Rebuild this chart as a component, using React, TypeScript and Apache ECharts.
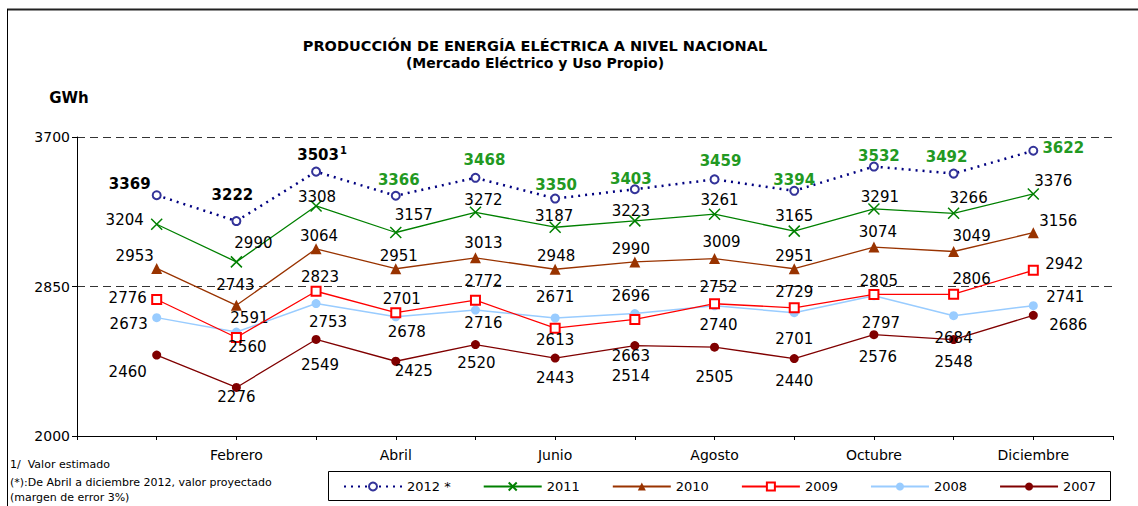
import React, { useEffect, useRef } from "react";
import * as echarts from "echarts";

const months = ["Enero", "Febrero", "Marzo", "Abril", "Mayo", "Junio", "Julio", "Agosto", "Septiembre", "Octubre", "Noviembre", "Diciembre"];
const yTicks = [2000, 2850, 3700];

const v2012 = [3369, 3222, 3503, 3366, 3468, 3350, 3403, 3459, 3394, 3532, 3492, 3622];
const v2011 = [3204, 2990, 3308, 3157, 3272, 3187, 3223, 3261, 3165, 3291, 3266, 3376];
const v2010 = [2953, 2743, 3064, 2951, 3013, 2948, 2990, 3009, 2951, 3074, 3049, 3156];
const v2009 = [2776, 2560, 2823, 2701, 2772, 2613, 2663, 2752, 2729, 2805, 2806, 2942];
const v2008 = [2673, 2591, 2753, 2678, 2716, 2671, 2696, 2740, 2701, 2797, 2684, 2741];
const v2007 = [2460, 2276, 2549, 2425, 2520, 2443, 2514, 2505, 2440, 2576, 2548, 2686];

// 2012: first months are actual values, the rest projected (green labels)
const estimatedFrom = 3; // index of Abril
const footnoteIndex = 2; // Marzo carries the "1/" mark

// label placement (layout only): [dx, dy] from the point
const off2012 = [[-27, -11], [-4, -26], [6, -17], [3, -16], [9, -18], [1, -14], [-4, -10], [6, -18], [0, -11], [5, -11], [-7, -17], [30, -3]];
const off2011 = [[-32, -4], [17, -19], [1, -9], [18, -18], [8, -12], [-1, -11], [-4, -10], [5, -14], [0, -15], [6, -12], [15, -15], [20, -13]];
const off2010 = [[-22, -12], [-1, -20], [3, -13], [3, -13], [8, -15], [1, -13], [-4, -13], [7, -17], [0, -13], [4, -15], [18, -15], [25, -12]];
const off2009 = [[-29, -2], [11, 9], [4, -14], [6, -14], [8, -19], [0, 12], [-4, 37], [4, -17], [0, -16], [5, -13], [18, -15], [31, -6]];
const off2008 = [[-28, 6], [13, -14], [12, 18], [11, 15], [8, 13], [0, -21], [-4, -18], [4, 19], [0, 26], [7, 27], [0, 22], [32, -9]];
const off2007 = [[-29, 17], [0, 10], [4, 26], [18, 10], [1, 18], [0, 20], [-4, 30], [0, 30], [0, 22], [4, 22], [0, 22], [35, 10]];

const FONT = "DejaVu Sans";

function pts(values: number[], offs: number[][]) {
  return values.map((v, i) => ({
    value: [i + 1, v],
    label: { offset: offs[i] },
  }));
}

export default function App() {
  const ref = useRef<HTMLDivElement>(null);
  useEffect(() => {
    if (!ref.current) return;
    const chart = echarts.init(ref.current, null, { renderer: "svg" });
    const baseLabel = {
      show: true,
      position: "inside",
      color: "#000",
      fontFamily: FONT,
      fontSize: 15,
    };
    const data2012 = v2012.map((v, i) => ({
      value: [i + 1, v],
      label: {
        offset: off2012[i],
        formatter: i === footnoteIndex ? `{b|${v}}{s|1}` : i >= estimatedFrom ? `{g|${v}}` : `{b|${v}}`,
      },
    }));
    chart.setOption({
      animation: false,
      backgroundColor: "#fff",
      title: {
        text: "PRODUCCIÓN DE ENERGÍA ELÉCTRICA A NIVEL NACIONAL",
        subtext: "(Mercado Eléctrico y Uso Propio)",
        left: 530,
        textAlign: "center",
        top: 33,
        itemGap: 3,
        textStyle: { fontFamily: FONT, fontSize: 14.5, fontWeight: "bold", color: "#000" },
        subtextStyle: { fontFamily: FONT, fontSize: 14, fontWeight: "bold", color: "#000" },
      },
      grid: { left: 77, right: 25, top: 137, bottom: 70 },
      xAxis: {
        type: "value",
        min: 0,
        max: 13,
        interval: 1,
        axisLine: { show: true, lineStyle: { color: "#000", width: 1 } },
        axisTick: { show: true, inside: false, length: 4, lineStyle: { color: "#000" } },
        splitLine: { show: false },
        axisLabel: {
          margin: 12,
          color: "#000",
          fontFamily: FONT,
          fontSize: 14,
          formatter: (v: number) => (v >= 2 && v <= 12 && v % 2 === 0 ? months[v - 1] : ""),
        },
      },
      yAxis: {
        type: "value",
        min: yTicks[0],
        max: yTicks[yTicks.length - 1],
        interval: yTicks[1] - yTicks[0],
        axisLine: { show: true, lineStyle: { color: "#000", width: 1 } },
        axisTick: { show: true, inside: false, length: 5, lineStyle: { color: "#000" } },
        splitLine: { show: true, showMinLine: false, lineStyle: { color: "#333", type: [8, 5], width: 1 } },
        axisLabel: { margin: 7, color: "#000", fontFamily: FONT, fontSize: 14, formatter: (v: number) => String(v) },
      },
      legend: {
        left: 343,
        top: 480,
        padding: 0,
        itemWidth: 58,
        itemHeight: 10,
        itemGap: 32,
        textStyle: { fontFamily: FONT, fontSize: 13, color: "#000" },
        data: ["2012 *", "2011", "2010", "2009", "2008", "2007"],
      },
      graphic: [
        { type: "line", shape: { x1: 7, y1: 9.5, x2: 1138, y2: 9.5 }, style: { stroke: "#222", lineWidth: 2 } },
        { type: "line", shape: { x1: 7.5, y1: 9, x2: 7.5, y2: 506 }, style: { stroke: "#000", lineWidth: 1 } },
        { type: "rect", shape: { x: 328.5, y: 471.5, width: 782, height: 29 }, style: { stroke: "#000", fill: "none", lineWidth: 1 } },
        { type: "text", x: 69, y: 98, style: { text: "GWh", font: `bold 15px '${FONT}'`, fill: "#000", align: "center", verticalAlign: "middle" } },
        { type: "text", x: 10, y: 459, style: { text: "1/  Valor estimado", font: `11px '${FONT}'`, fill: "#000" } },
        { type: "text", x: 10, y: 477, style: { text: "(*):De Abril a diciembre 2012, valor proyectado", font: `11px '${FONT}'`, fill: "#000" } },
        { type: "text", x: 10, y: 492, style: { text: "(margen de error 3%)", font: `11px '${FONT}'`, fill: "#000" } },
      ],
      series: [
        {
          name: "2012 *",
          type: "line",
          data: data2012,
          symbol: "emptyCircle",
          symbolSize: 8,
          itemStyle: { color: "#333399", borderWidth: 1.2 },
          lineStyle: { color: "#000080", width: 2.5, type: [2, 5] },
          label: {
            ...baseLabel,
            rich: {
              b: { fontFamily: FONT, fontSize: 15, fontWeight: "bold", color: "#000", lineHeight: 18 },
              g: { fontFamily: FONT, fontSize: 15, fontWeight: "bold", color: "#229922", lineHeight: 18 },
              s: { fontFamily: FONT, fontSize: 10, fontWeight: "bold", color: "#000", verticalAlign: "top", lineHeight: 18, padding: [0, 0, 6, 1] },
            },
          },
          z: 8,
        },
        {
          name: "2011",
          type: "line",
          data: pts(v2011, off2011),
          symbol: "path://M0 0L10 10M10 0L0 10",
          symbolSize: 11,
          itemStyle: { color: "#008000", borderColor: "#008000", borderWidth: 1.5 },
          lineStyle: { color: "#008000", width: 1.3 },
          label: baseLabel,
          z: 7,
        },
        {
          name: "2010",
          type: "line",
          data: pts(v2010, off2010),
          symbol: "triangle",
          symbolSize: 11,
          itemStyle: { color: "#993300" },
          lineStyle: { color: "#993300", width: 1.3 },
          label: baseLabel,
          z: 6,
        },
        {
          name: "2009",
          type: "line",
          data: pts(v2009, off2009),
          symbol: "emptyRect",
          symbolSize: 9,
          itemStyle: { color: "#ff0000", borderWidth: 1.3 },
          lineStyle: { color: "#ff0000", width: 1.3 },
          label: baseLabel,
          z: 5,
        },
        {
          name: "2008",
          type: "line",
          data: pts(v2008, off2008),
          symbol: "circle",
          symbolSize: 9,
          itemStyle: { color: "#99ccff" },
          lineStyle: { color: "#99ccff", width: 1.5 },
          label: baseLabel,
          z: 4,
        },
        {
          name: "2007",
          type: "line",
          data: pts(v2007, off2007),
          symbol: "circle",
          symbolSize: 9,
          itemStyle: { color: "#800000" },
          lineStyle: { color: "#800000", width: 1.3 },
          label: baseLabel,
          z: 3,
        },
      ],
    });
    return () => chart.dispose();
  }, []);
  return <div ref={ref} style={{ position: "absolute", left: 0, top: 0, width: 1138, height: 506 }} />;
}
